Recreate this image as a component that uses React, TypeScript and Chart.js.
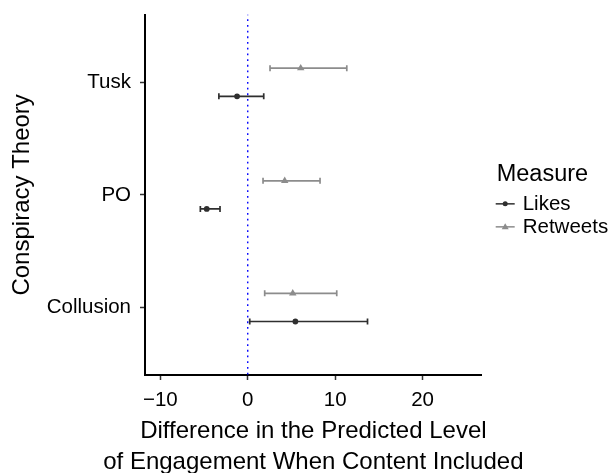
import React, { useEffect, useRef } from 'react';
import { Chart, registerables } from 'chart.js';

Chart.register(...registerables);

const categories = ['Collusion', 'PO', 'Tusk'];
const seriesNames = ['Likes', 'Retweets'];
const likesEst = [5.45, -4.69, -1.22];
const likesLo = [0.23, -5.42, -3.3];
const likesHi = [13.7, -3.17, 1.83];
const retweetsEst = [5.15, 4.23, 6.06];
const retweetsLo = [1.94, 1.75, 2.55];
const retweetsHi = [10.18, 8.27, 11.33];
const xTicks = [-10, 0, 10, 20];
const xTitleLines = ['Difference in the Predicted Level', 'of Engagement When Content Included'];
const yTitle = 'Conspiracy Theory';
const legendTitle = 'Measure';

const FONT = '"Liberation Sans", Arial, Helvetica, sans-serif';
const LIKES_COLOR = '#2f2f2f';
const RETWEETS_COLOR = '#8c8c8c';
const DODGE = 0.125;

const textPlugin = {
  id: 'customText',
  afterDraw(chart: any) {
    const ctx = chart.ctx as CanvasRenderingContext2D;
    const area = chart.chartArea;
    const cy = (area.top + area.bottom) / 2;
    const cx = (area.left + area.right) / 2;
    ctx.save();
    ctx.fillStyle = '#000';

    // x-axis title (two lines)
    ctx.font = `24px ${FONT}`;
    ctx.textAlign = 'center';
    ctx.textBaseline = 'alphabetic';
    ctx.fillText(xTitleLines[0], cx, area.bottom + 63);
    ctx.fillText(xTitleLines[1], cx, area.bottom + 94);

    // legend
    const lx = area.right + 15;
    ctx.textBaseline = 'middle';
    ctx.textAlign = 'left';
    ctx.font = `23.5px ${FONT}`;
    ctx.fillText(legendTitle, lx, cy - 20);
    ctx.font = `20.5px ${FONT}`;
    const items = [
      { name: seriesNames[0], color: LIKES_COLOR, shape: 'circle', dy: 9 },
      { name: seriesNames[1], color: RETWEETS_COLOR, shape: 'triangle', dy: 32 },
    ];
    items.forEach((it) => {
      const y = cy + it.dy;
      ctx.strokeStyle = it.color;
      ctx.fillStyle = it.color;
      ctx.lineWidth = 1.5;
      ctx.beginPath();
      ctx.moveTo(lx - 1, y);
      ctx.lineTo(lx + 18, y);
      ctx.stroke();
      const mx = lx + 8.5;
      ctx.beginPath();
      if (it.shape === 'circle') {
        ctx.arc(mx, y, 2.5, 0, Math.PI * 2);
      } else {
        ctx.moveTo(mx, y - 3.5);
        ctx.lineTo(mx + 3.5, y + 2.4);
        ctx.lineTo(mx - 3.5, y + 2.4);
        ctx.closePath();
      }
      ctx.fill();
      ctx.fillStyle = '#000';
      ctx.fillText(it.name, lx + 26, y);
    });
    ctx.restore();
  },
};

function errorBarDatasets(lo: number[], hi: number[], offset: number, color: string) {
  return categories.map((c, i) => ({
    type: 'line' as const,
    label: `${c}-bar`,
    data: [
      { x: lo[i], y: i + 1 + offset },
      { x: hi[i], y: i + 1 + offset },
    ],
    borderColor: color,
    borderWidth: 1.7,
    pointStyle: 'line' as const,
    rotation: 90,
    pointRadius: 3,
    pointBorderWidth: 1.7,
    pointBorderColor: color,
    pointHoverRadius: 0,
    fill: false,
    order: 2,
  }));
}

export default function App() {
  const ref = useRef<HTMLCanvasElement | null>(null);

  useEffect(() => {
    document.body.style.margin = '0';
    const canvas = ref.current;
    if (!canvas) return;
    const datasets: any[] = [
      {
        type: 'line',
        label: 'zero',
        data: [
          { x: 0, y: 0 },
          { x: 0, y: 4 },
        ],
        borderColor: '#0000ff',
        borderWidth: 1.4,
        borderDash: [1.8, 3.9],
        pointRadius: 0,
        order: 3,
      },
      ...errorBarDatasets(likesLo, likesHi, -DODGE, LIKES_COLOR),
      ...errorBarDatasets(retweetsLo, retweetsHi, DODGE, RETWEETS_COLOR),
      {
        type: 'scatter',
        label: seriesNames[0],
        data: likesEst.map((v, i) => ({ x: v, y: i + 1 - DODGE })),
        pointStyle: 'circle',
        pointRadius: 2.9,
        backgroundColor: LIKES_COLOR,
        borderColor: LIKES_COLOR,
        borderWidth: 0,
        order: 1,
      },
      {
        type: 'scatter',
        label: seriesNames[1],
        data: retweetsEst.map((v, i) => ({ x: v, y: i + 1 + DODGE })),
        pointStyle: 'triangle',
        pointRadius: 4.3,
        backgroundColor: RETWEETS_COLOR,
        borderColor: RETWEETS_COLOR,
        borderWidth: 0,
        order: 1,
      },
    ];

    const chart = new Chart(canvas, {
      type: 'scatter',
      data: { datasets },
      plugins: [textPlugin],
      options: {
        responsive: false,
        animation: false,
        events: [],
        layout: { padding: { top: 14.7, right: 130.3, left: 0, bottom: 0 } },
        plugins: {
          legend: { display: false },
          tooltip: { enabled: false },
        },
        scales: {
          x: {
            type: 'linear',
            min: -11.75,
            max: 26.76,
            afterBuildTicks: (scale: any) => {
              scale.ticks = xTicks.map((v) => ({ value: v }));
            },
            afterFit: (scale: any) => {
              scale.height = 98;
              scale.paddingLeft = 0;
              scale.paddingRight = 0;
            },
            grid: {
              display: true,
              drawOnChartArea: false,
              drawTicks: true,
              tickLength: 5,
              tickWidth: 1.5,
              tickColor: '#333',
            },
            border: { display: true, color: '#000', width: 2 },
            ticks: {
              color: '#000',
              padding: 8,
              font: { family: FONT, size: 20.5 },
              callback: (v: any) => (Number(v) < 0 ? '\u2212' + Math.abs(Number(v)) : String(v)),
            },
            title: { display: false },
          },
          y: {
            type: 'linear',
            min: 0.4,
            max: 3.6,
            afterBuildTicks: (scale: any) => {
              scale.ticks = categories.map((_, i) => ({ value: i + 1 }));
            },
            afterFit: (scale: any) => {
              scale.width = 145;
              scale.paddingTop = 0;
              scale.paddingBottom = 0;
            },
            grid: {
              display: true,
              drawOnChartArea: false,
              drawTicks: true,
              tickLength: 5,
              tickWidth: 1.5,
              tickColor: '#333',
            },
            border: { display: true, color: '#000', width: 2 },
            ticks: {
              color: '#000',
              padding: 9,
              font: { family: FONT, size: 20.5 },
              callback: (v: any) => categories[Math.round(Number(v)) - 1] ?? '',
            },
            title: {
              display: true,
              text: yTitle,
              color: '#000',
              font: { family: FONT, size: 24 },
              padding: { top: 8, bottom: 0 },
            },
          },
        },
      },
    });
    return () => chart.destroy();
  }, []);

  return <canvas ref={ref} width={612} height={473} style={{ display: 'block' }} />;
}
